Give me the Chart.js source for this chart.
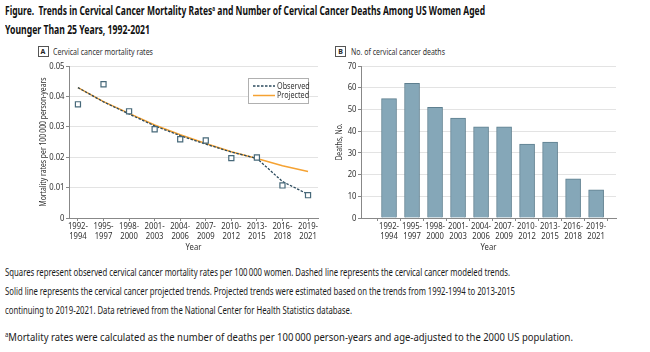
<!DOCTYPE html>
<html>
<head>
<meta charset="utf-8">
<script src="https://cdn.jsdelivr.net/npm/chart.js@4.4.1/dist/chart.umd.min.js"></script>
<style>
  html, body { margin: 0; padding: 0; background: #fff; }
  body { width: 650px; height: 352px; position: relative; overflow: hidden;
         font-family: "Noto Sans", "Open Sans", sans-serif; color: #1a1a1a; }
  .fit { position: absolute; white-space: nowrap; transform-origin: 0 50%; display: inline-block; }
  .title { left: 5px; font-size: 12.8px; font-weight: bold; line-height: 16px; color: #111; }
  .panel { font-size: 9.6px; line-height: 12px; color: #333; }
  .box { position: absolute; width: 9px; height: 9px; border: 1px solid #555; font-weight: bold; font-size: 7px;
         line-height: 9px; text-align: center; color: #222; font-family: "Noto Sans", sans-serif; }
  canvas { position: absolute; top: 40px; }
  .note { left: 5px; font-size: 11.2px; line-height: 14px; color: #1a1a1a; }
  sup { font-size: 7px; vertical-align: 4px; line-height: 0; }
</style>
</head>
<body>
<div class="fit title" style="top:2px;" data-w="480">Figure.&nbsp; Trends in Cervical Cancer Mortality Rates<sup>a</sup> and Number of Cervical Cancer Deaths Among US Women Aged</div>
<div class="fit title" style="top:21px;" data-w="145">Younger Than 25 Years, 1992-2021</div>
<span class="box" style="left:37.5px;top:46px;">A</span>
<div class="fit panel" style="left:53px;top:45.5px;" data-w="100">Cervical cancer mortality rates</div>
<span class="box" style="left:335px;top:46px;">B</span>
<div class="fit panel" style="left:351px;top:45.5px;" data-w="94">No. of cervical cancer deaths</div>
<canvas id="cA" width="330" height="215" style="left:0px;width:330px;height:215px;"></canvas>
<canvas id="cB" width="320" height="215" style="left:330px;width:320px;height:215px;"></canvas>
<div class="fit note" style="top:264.5px;" data-w="505">Squares represent observed cervical cancer mortality rates per 100&#8201;000 women. Dashed line represents the cervical cancer modeled trends.</div>
<div class="fit note" style="top:283.5px;" data-w="510">Solid line represents the cervical cancer projected trends. Projected trends were estimated based on the trends from 1992-1994 to 2013-2015</div>
<div class="fit note" style="top:302.5px;" data-w="347">continuing to 2019-2021. Data retrieved from the National Center for Health Statistics database.</div>
<div class="fit note" style="top:329.5px;" data-w="568"><sup>a</sup>Mortality rates were calculated as the number of deaths per 100&#8201;000 person-years and age-adjusted to the 2000 US population.</div>

<script>
// ---- data ----
const categories = ['1992-1994','1995-1997','1998-2000','2001-2003','2004-2006','2007-2009','2010-2012','2013-2015','2016-2018','2019-2021'];
const observedRates = [0.0374, 0.0440, 0.0351, 0.0292, 0.0259, 0.0255, 0.0197, 0.0199, 0.0107, 0.0075];
const modeledRates  = [0.0429, 0.0382, 0.0342, 0.0303, 0.0271, 0.0243, 0.0217, 0.0196, 0.0120, 0.0078];
const projectedRates= [0.0429, 0.0383, 0.0344, 0.0306, 0.0274, 0.0245, 0.0218, 0.0196, 0.0172, 0.0153];
const deaths = [55, 62, 51, 46, 42, 42, 34, 35, 18, 13];
const rateTicks = [0, 0.01, 0.02, 0.03, 0.04, 0.05];
const deathTicks = [0, 10, 20, 30, 40, 50, 60, 70];

// fit HTML text widths (condensed look)
document.querySelectorAll('.fit').forEach(el => {
  const w = el.getBoundingClientRect().width;
  const target = parseFloat(el.dataset.w);
  el.style.transform = 'scaleX(' + (target / w) + ')';
});

// condensed canvas text: squeeze horizontally around the anchor point
const SQUEEZE = 0.82;
const origFill = CanvasRenderingContext2D.prototype.fillText;
CanvasRenderingContext2D.prototype.fillText = function (t, x, y, mw) {
  this.save();
  this.translate(x, y);
  this.scale(SQUEEZE, 1);
  if (mw === undefined) origFill.call(this, t, 0, 0);
  else origFill.call(this, t, 0, 0, mw / SQUEEZE);
  this.restore();
};

const FONT = '"Noto Sans", "Open Sans", sans-serif';
Chart.defaults.font.family = FONT;
Chart.defaults.font.size = 9.4;
Chart.defaults.color = '#333';
Chart.defaults.animation = false;

const xy = arr => arr.map((v, i) => ({ x: i, y: v }));
const splitLabel = v => { const c = categories[v]; if (!c) return ''; const p = c.split('-'); return [p[0] + '-', p[1]]; };

function xScale(min, max) {
  return {
    type: 'linear', min: min, max: max,
    afterBuildTicks: s => { s.ticks = categories.map((c, i) => ({ value: i })); },
    afterFit: s => { s.height = 37; },
    ticks: { callback: v => splitLabel(v), autoSkip: false, maxRotation: 0, padding: 0, font: { size: 9.4, lineHeight: 1.08 }, color: '#333' },
    grid: { drawOnChartArea: false, tickLength: 3, tickColor: '#888' },
    border: { color: '#888', width: 1 },
    title: { display: true, text: 'Year', font: { size: 9.4 }, padding: { top: 0, bottom: 2.4 }, color: '#333' }
  };
}
function yScale(ticksArr, width, titleText, titlePad, fmt) {
  return {
    min: ticksArr[0], max: ticksArr[ticksArr.length - 1],
    afterBuildTicks: s => { s.ticks = ticksArr.map(v => ({ value: v })); },
    afterFit: s => { s.width = width; },
    ticks: { callback: fmt, padding: 1.5, color: '#333', font: { size: 9.4 } },
    grid: { color: '#e3e3e3', tickColor: '#888', tickLength: 3, lineWidth: 1 },
    border: { color: '#888', width: 1 },
    title: { display: true, text: titleText, font: { size: 8.3 }, padding: { top: titlePad, bottom: 0 }, color: '#333' }
  };
}

const legendPlugin = {
  id: 'insideLegend',
  afterDraw(chart) {
    const ctx = chart.ctx, a = chart.chartArea;
    const x0 = Math.round(a.right - 70), y0 = Math.round(a.top + 12), w = 60, h = 25;
    ctx.save();
    ctx.fillStyle = '#fff';
    ctx.fillRect(x0, y0, w, h);
    ctx.strokeStyle = '#b0b0b0'; ctx.lineWidth = 1;
    ctx.strokeRect(x0 + 0.5, y0 + 0.5, w, h);
    const items = chart.data.datasets.filter(d => d.legend);
    items.forEach((d, i) => {
      const yy = y0 + 8 + i * 9.5;
      ctx.beginPath();
      ctx.strokeStyle = d.borderColor; ctx.lineWidth = d.borderWidth;
      ctx.setLineDash(d.borderDash || []);
      ctx.moveTo(x0 + 5, yy); ctx.lineTo(x0 + 27, yy); ctx.stroke();
      ctx.setLineDash([]);
      ctx.fillStyle = '#333'; ctx.font = '8.8px ' + FONT; ctx.textBaseline = 'middle'; ctx.textAlign = 'left';
      ctx.fillText(d.label, x0 + 29, yy);
    });
    ctx.restore();
  }
};

new Chart(document.getElementById('cA'), {
  type: 'line',
  data: {
    datasets: [
      { label: 'Observed rate', data: xy(observedRates), showLine: false, pointStyle: 'rect', pointRadius: 3.6,
        pointBorderColor: '#47697a', pointBackgroundColor: '#fff', pointBorderWidth: 1.2, order: 0 },
      { label: 'Observed', legend: true, data: xy(modeledRates), borderColor: '#2c4b5e', borderWidth: 1.3, borderDash: [2.5, 1.5],
        pointRadius: 0, tension: 0, order: 1 },
      { label: 'Projected', legend: true, data: xy(projectedRates), borderColor: '#f5a232', borderWidth: 1.5,
        pointRadius: 0, tension: 0, order: 2 }
    ]
  },
  options: {
    responsive: false, maintainAspectRatio: false,
    layout: { padding: { left: 0, top: 26, right: 12, bottom: 0 } },
    plugins: { legend: { display: false }, tooltip: { enabled: false } },
    scales: {
      x: xScale(-0.35, 9.39),
      y: yScale(rateTicks, 69, 'Mortality rates per 100\u2009000 person-years', 38.5, v => v === 0 ? '0' : v.toFixed(2))
    }
  },
  plugins: [legendPlugin]
});

new Chart(document.getElementById('cB'), {
  type: 'bar',
  data: {
    datasets: [
      { label: 'Deaths', data: xy(deaths), backgroundColor: '#85a7b8', borderColor: '#5e7f8f', borderWidth: 1, barThickness: 15 }
    ]
  },
  options: {
    responsive: false, maintainAspectRatio: false,
    layout: { padding: { left: 0, top: 26, right: 34, bottom: 0 } },
    plugins: { legend: { display: false }, tooltip: { enabled: false } },
    scales: {
      x: xScale(-0.664, 9.31),
      y: yScale(deathTicks, 31, 'Deaths, No.', 5, v => String(v))
    }
  }
});
</script>
</body>
</html>
